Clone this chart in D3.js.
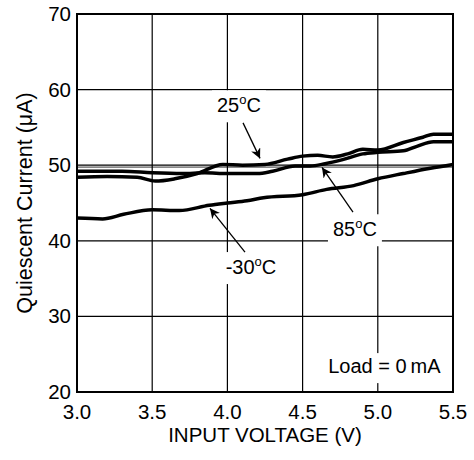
<!DOCTYPE html>
<html>
<head>
<meta charset="utf-8">
<script src="https://cdn.jsdelivr.net/npm/d3@7/dist/d3.min.js"></script>
<style>
  body { margin: 0; background: #fff; }
  svg { font-family: "Liberation Sans", Arial, sans-serif; }
</style>
</head>
<body>
<div id="chart"></div>
<script>
// tick values
const xTicks = [3.0, 3.5, 4.0, 4.5, 5.0, 5.5];
const yTicks = [20, 30, 40, 50, 60, 70];
// second thin line just under the 50 uA grid line
const refLevels = [49.75];

// series: [input voltage (V), current (uA)]
const tempM30 = [[3.0, 43.0], [3.17, 42.9], [3.31, 43.5], [3.5, 44.1], [3.68, 44.0], [3.88, 44.7],
  [4.0, 45.0], [4.13, 45.3], [4.24, 45.7], [4.5, 46.1], [4.66, 46.8], [4.84, 47.3],
  [5.0, 48.2], [5.17, 48.9], [5.35, 49.6], [5.5, 50.1]];
const temp25 = [[3.0, 48.4], [3.2, 48.5], [3.4, 48.4], [3.52, 47.9], [3.65, 48.2], [3.8, 48.9],
  [3.97, 50.1], [4.1, 50.0], [4.25, 50.1], [4.4, 50.8], [4.5, 51.2], [4.6, 51.3], [4.7, 51.1],
  [4.8, 51.5], [4.9, 52.1], [5.0, 52.0], [5.17, 53.0], [5.3, 53.7], [5.37, 54.1], [5.5, 54.1]];
const temp85 = [[3.0, 49.2], [3.3, 49.2], [3.5, 49.0], [3.7, 48.9], [3.85, 49.0], [4.0, 48.9],
  [4.2, 48.9], [4.3, 49.2], [4.45, 49.9], [4.55, 49.9], [4.65, 50.2], [4.76, 50.7],
  [4.9, 51.5], [5.0, 51.7], [5.17, 51.9], [5.26, 52.5], [5.37, 53.1], [5.5, 53.1]];

// labels and arrows, in data units
const labels = [
  { text: "25", sup: "o", unit: "C", x: 4.077, y: 57.0 },
  { text: "85", sup: "o", unit: "C", x: 4.848, y: 40.6 },
  { text: "-30", sup: "o", unit: "C", x: 4.157, y: 35.6 },
  { text: "Load = 0\u2009mA", sup: "", unit: "", x: 5.044, y: 22.5 }
];
const arrows = [
  { x1: 4.104, y1: 55.6, x2: 4.217, y2: 50.9 },
  { x1: 4.835, y1: 43.8, x2: 4.629, y2: 49.7 },
  { x1: 4.117, y1: 38.5, x2: 3.884, y2: 44.3 }
];

const width = 474;
const height = 460;
const svg = d3.select("#chart").append("svg").attr("width", width).attr("height", height);

const x = d3.scaleLinear().domain([3.0, 5.5]).range([77, 453]);
const y = d3.scaleLinear().domain([20, 70]).range([392, 14]);

// grid
svg.append("g").selectAll("line")
  .data(xTicks)
  .join("line")
  .attr("x1", d => x(d)).attr("x2", d => x(d))
  .attr("y1", y(20)).attr("y2", y(70))
  .attr("stroke", "#000").attr("stroke-width", 1.2);
svg.append("g").selectAll("line")
  .data(yTicks)
  .join("line")
  .attr("x1", x(3.0)).attr("x2", x(5.5))
  .attr("y1", d => y(d)).attr("y2", d => y(d))
  .attr("stroke", "#000").attr("stroke-width", 1.2);
svg.append("g").selectAll("line")
  .data(refLevels)
  .join("line")
  .attr("x1", x(3.0)).attr("x2", x(5.5))
  .attr("y1", d => y(d)).attr("y2", d => y(d))
  .attr("stroke", "#000").attr("stroke-width", 0.8);

// frame
svg.append("rect")
  .attr("x", x(3.0)).attr("y", y(70))
  .attr("width", x(5.5) - x(3.0)).attr("height", y(20) - y(70))
  .attr("fill", "none").attr("stroke", "#000").attr("stroke-width", 2);

// tick labels
svg.append("g").selectAll("text")
  .data(yTicks)
  .join("text")
  .attr("x", x(3.0) - 6)
  .attr("y", d => y(d) + 7)
  .attr("text-anchor", "end")
  .attr("font-size", 20.5)
  .text(d => d);
svg.append("g").selectAll("text")
  .data(xTicks)
  .join("text")
  .attr("x", d => x(d))
  .attr("y", 419)
  .attr("text-anchor", "middle")
  .attr("font-size", 20.5)
  .text(d => d.toFixed(1));

// axis titles
svg.append("text")
  .attr("x", (x(3.0) + x(5.5)) / 2)
  .attr("y", 442)
  .attr("text-anchor", "middle")
  .attr("font-size", 20.5)
  .text("INPUT VOLTAGE (V)");
svg.append("text")
  .attr("transform", `translate(32,${(y(20) + y(70)) / 2}) rotate(-90)`)
  .attr("text-anchor", "middle")
  .attr("font-size", 21.5)
  .text("Quiescent Current (\u03bcA)");

// curves
const line = d3.line()
  .x(d => x(d[0]))
  .y(d => y(d[1]))
  .curve(d3.curveMonotoneX);
svg.append("g").selectAll("path")
  .data([tempM30, temp85, temp25])
  .join("path")
  .attr("d", line)
  .attr("fill", "none")
  .attr("stroke", "#000")
  .attr("stroke-width", 3.5)
  .attr("stroke-linejoin", "round");

// labels with white boxes behind them
labels.forEach(l => {
  const g = svg.append("g");
  const t = g.append("text")
    .attr("x", x(l.x))
    .attr("y", y(l.y))
    .attr("text-anchor", "middle")
    .attr("font-size", 20);
  t.append("tspan").text(l.text);
  if (l.sup) {
    t.append("tspan").attr("font-size", 13).attr("dy", -8).text(l.sup);
    t.append("tspan").attr("dy", 8).text(l.unit);
  }
  const b = t.node().getBBox();
  g.insert("rect", "text")
    .attr("x", b.x - 5).attr("y", b.y - 2)
    .attr("width", b.width + 10).attr("height", b.height + 8)
    .attr("fill", "#fff");
});

// arrows
svg.append("defs").append("marker")
  .attr("id", "head")
  .attr("viewBox", "0 0 10 10")
  .attr("refX", 10).attr("refY", 5)
  .attr("markerWidth", 10).attr("markerHeight", 10)
  .attr("markerUnits", "userSpaceOnUse")
  .attr("orient", "auto")
  .append("path")
  .attr("d", "M0,0 L10,5 L0,10 L3,5 Z")
  .attr("fill", "#000");
svg.append("g").selectAll("line")
  .data(arrows)
  .join("line")
  .attr("x1", d => x(d.x1)).attr("y1", d => y(d.y1))
  .attr("x2", d => x(d.x2)).attr("y2", d => y(d.y2))
  .attr("stroke", "#000")
  .attr("stroke-width", 1.3)
  .attr("marker-end", "url(#head)");
</script>
</body>
</html>
